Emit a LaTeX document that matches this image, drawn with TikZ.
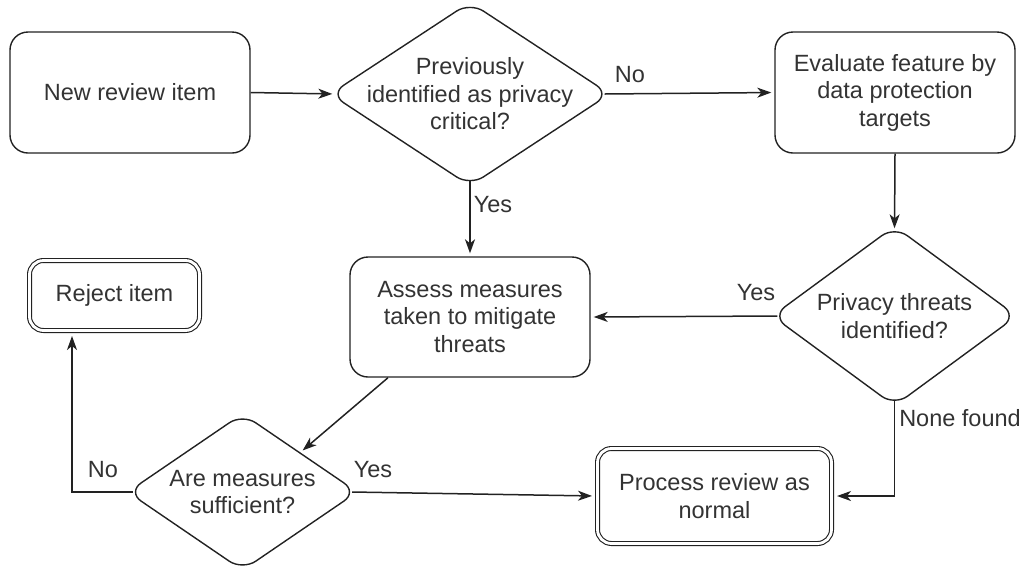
\documentclass[tikz,border=0pt]{standalone}
\usepackage{fontspec}
\setmainfont{Liberation Sans}
\usetikzlibrary{shapes.geometric,arrows.meta,calc}
\definecolor{ln}{HTML}{222222}
\definecolor{tx}{HTML}{333333}
\begin{document}
\begin{tikzpicture}[x=1pt,y=-1pt,
  every node/.style={font=\fontsize{23.5}{27.5}\selectfont, text=tx},
  box/.style={draw=ln, line width=1.4pt, rounded corners=18pt, align=center, inner sep=0pt},
  dbox/.style={draw=ln, line width=1.1pt, double=white, double distance=2.8pt, rounded corners=14pt, align=center, inner sep=0pt, outer sep=2.5pt},
  dia/.style={draw=ln, line width=1.4pt, diamond, rounded corners=16pt, inner sep=0pt},
  arr/.style={draw=ln, line width=1.5pt, shorten >=3pt, -{Stealth[length=14pt,width=10pt,inset=4pt]}},
  lbl/.style={inner sep=0pt}]
\useasboundingbox (0,0) rectangle (1027,566);
\node[box, minimum width=240pt, minimum height=121pt] (n1) at (130,92.5) {New review item};
\node[dia, minimum width=280pt, minimum height=184pt] (d1) at (470,94) {};
\node[align=center] at (d1) {Previously\\identified as privacy\\critical?};
\node[box, minimum width=240pt, minimum height=121pt] (n2) at (895,92.5) {Evaluate feature by\\data protection\\targets};
\node[dia, minimum width=245pt, minimum height=180pt] (d2) at (894.5,316) {};
\node[align=center] at (d2) {Privacy threats\\identified?};
\node[box, minimum width=240pt, minimum height=120pt] (n3) at (470,317) {Assess measures\\taken to mitigate\\threats};
\node[dbox, minimum width=170pt, minimum height=70pt] (rej) at (114.5,295.5) {Reject item};
\node[dia, minimum width=230pt, minimum height=157pt] (d3) at (242.5,492) {};
\node[align=center] at (d3) {Are measures\\sufficient?};
\node[dbox, minimum width=234pt, minimum height=95pt] (pr) at (714.5,496) {Process review as\\normal};

\draw[arr] (n1.east) -- ([xshift=6pt]d1.west);
\draw[arr] ([xshift=-6pt]d1.east) -- (n2.west);
\draw[arr] ([yshift=6pt]d1.south) -- (n3.north);
\draw[arr] (n2.south) -- ([yshift=-6pt]d2.north);
\draw[arr] ([xshift=6pt]d2.west) -- (n3.east);
\draw[arr] ([yshift=6pt]d2.south) |- (pr.east);
\draw[arr] ([xshift=-82pt]n3.south) -- ($(d3.north)!0.5!(d3.east)$);
\draw[arr] ([xshift=-6pt]d3.east) -- (pr.west);
\draw[arr] ([xshift=6pt]d3.west) -| ([xshift=-42.5pt]rej.south);

\node[lbl] (l1) at (630,75) {No};
\node[lbl] (l2) at (493,205) {Yes};
\node[lbl] (l3) at (756,293) {Yes};
\node[lbl] (l4) at (960,418) {None found};
\node[lbl] (l5) at (373,470) {Yes};
\node[lbl] (l6) at (103,470) {No};
\end{tikzpicture}
\end{document}
